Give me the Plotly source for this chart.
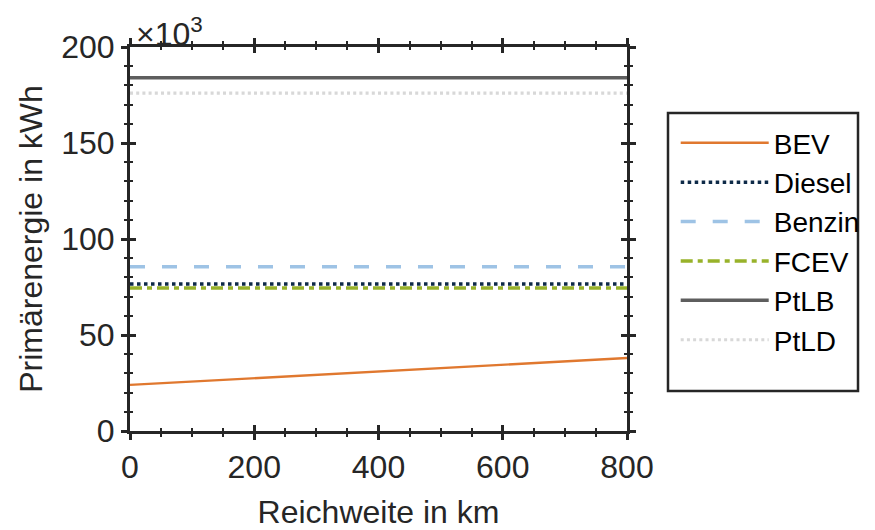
import plotly.graph_objects as go

# Data
range_km = [0, 800]
bev = [24, 38]
diesel = [76.5, 76.5]
benzin = [85.5, 85.5]
fcev = [74.5, 74.5]
ptlb = [184, 184]
ptld = [176, 176]

series = [
    ("BEV", bev, "#E0782F", "solid", 2.4),
    ("Diesel", diesel, "#0E2A48", "3.5px,3.5px", 3.5),
    ("Benzin", benzin, "#9EC3E5", "15px,17px", 3.5),
    ("FCEV", fcev, "#98B22A", "12px,5px,5px,5px", 3.5),
    ("PtLB", ptlb, "#5E5E5E", "solid", 3.5),
    ("PtLD", ptld, "#D8D8D8", "3px,3.2px", 3.2),
]

fig = go.Figure()
for name, vals, col, dash, w in series:
    fig.add_trace(go.Scatter(x=range_km, y=vals, mode="lines", name=name,
                             line=dict(color=col, dash=dash, width=w)))

# dummy trace for inner tick axes
fig.add_trace(go.Scatter(x=[None], y=[None], xaxis="x2", yaxis="y2",
                         showlegend=False, hoverinfo="skip"))

font_family = "Liberation Sans, Arial, sans-serif"
axcol = "#262626"

common_x = dict(range=[0, 800], dtick=200, tick0=0, showgrid=False, zeroline=False,
                showline=True, linecolor=axcol, linewidth=3, mirror="allticks",
                tickcolor=axcol, tickwidth=3, ticklen=6)
common_y = dict(range=[0, 200], dtick=50, tick0=0, showgrid=False, zeroline=False,
                showline=True, linecolor=axcol, linewidth=3, mirror="allticks",
                tickcolor=axcol, tickwidth=3, ticklen=6)

fig.update_layout(
    width=875, height=530,
    margin=dict(l=130, r=248, t=47, b=99, autoexpand=False),
    paper_bgcolor="white", plot_bgcolor="white",
    font=dict(family=font_family, size=32, color="#262626"),
    xaxis=dict(**common_x, ticks="outside", automargin=False,
               minor=dict(ticks="outside", dtick=50, ticklen=3, tickwidth=2, tickcolor=axcol),
               tickfont=dict(size=32), title=dict(text="Reichweite in km", font=dict(size=32), standoff=24)),
    yaxis=dict(**common_y, ticks="outside", automargin=False,
               minor=dict(ticks="outside", dtick=10, ticklen=3, tickwidth=2, tickcolor=axcol),
               tickfont=dict(size=32), title=dict(text="Primärenergie in kWh", font=dict(size=32), standoff=10)),
    xaxis2=dict(**common_x, ticks="inside", overlaying="x", anchor="y2", showticklabels=False,
                minor=dict(ticks="inside", dtick=50, ticklen=3, tickwidth=2, tickcolor=axcol)),
    yaxis2=dict(**common_y, ticks="inside", overlaying="y", anchor="x2", showticklabels=False,
                minor=dict(ticks="inside", dtick=10, ticklen=3, tickwidth=2, tickcolor=axcol)),
    legend=dict(x=1.098, y=0.815, xanchor="left", yanchor="top",
                borderwidth=0, bgcolor="rgba(0,0,0,0)",
                font=dict(size=28, color="black"), tracegroupgap=0, itemwidth=88),
    showlegend=True,
    shapes=[dict(type="rect", xref="paper", yref="paper", x0=1.0825, x1=1.4648,
                 y0=0.104, y1=0.828, line=dict(color="#262626", width=2.5),
                 fillcolor="rgba(0,0,0,0)")],
)

fig.add_annotation(text="×10<sup>3</sup>", xref="paper", yref="paper", x=0.008, y=1.0,
                   xanchor="left", yanchor="bottom", showarrow=False,
                   font=dict(size=32, color="#262626", family=font_family), yshift=-7)

fig.write_html("out.html")
